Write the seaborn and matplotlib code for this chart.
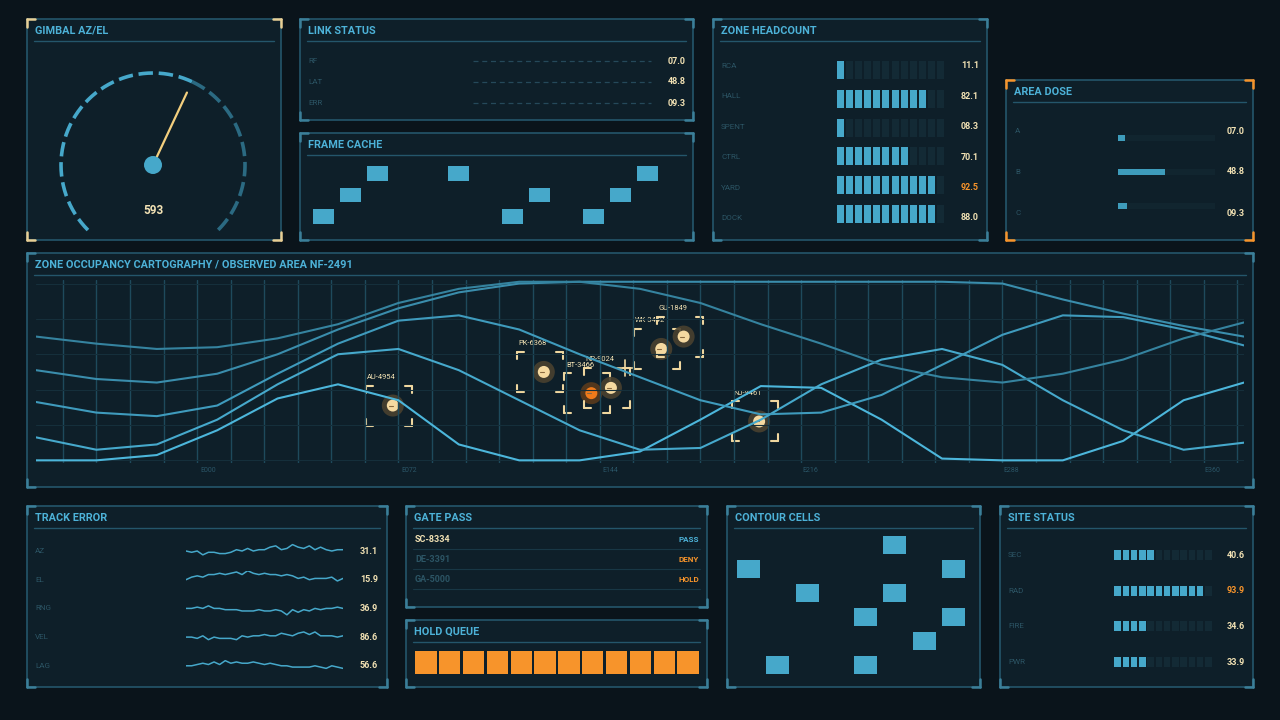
import numpy as np
import matplotlib
matplotlib.use("Agg")
import matplotlib.pyplot as plt
import seaborn as sns
import pandas as pd
from matplotlib.patches import Rectangle, Circle

sns.set_theme(style="dark")
plt.rcParams['font.family'] = ['Roboto', 'DejaVu Sans']
plt.rcParams['patch.edgecolor'] = 'none'
plt.rcParams['patch.linewidth'] = 0

# ---------------- data ----------------
gauge_value = 593
link_labels = ["RF", "LAT", "ERR"]
link_values = ["07.0", "48.8", "09.3"]
cache_cols = [0, 1, 2, 5, 7, 8, 10, 11, 12]
cache_rows = [0, 1, 2, 2, 0, 1, 0, 1, 2]
head_labels = ["RCA", "HALL", "SPENT", "CTRL", "YARD", "DOCK"]
head_values = [11.1, 82.1, 8.3, 70.1, 92.5, 88.0]
dose_labels = ["A", "B", "C"]
dose_values = [7.0, 48.8, 9.3]
map_x = [-61.6, -40.0, -18.4, 3.2, 24.8, 46.4, 68.0, 89.6, 111.2, 132.8, 154.4,
         176.0, 197.6, 219.2, 240.8, 262.4, 284.0, 305.6, 327.2, 348.8, 370.4]
line_a = [0, 0, 3, 17, 35, 43, 34, 9, 0, 0, 5, 23, 42, 41, 23, 1, 0, 0, 11, 34, 44]
line_b = [13, 6, 9, 23, 43, 60, 63, 51, 34, 17, 6, 7, 23, 43, 57, 63, 54, 34, 17, 6, 10]
line_c = [33, 27, 25, 31, 49, 66, 79, 82, 74, 60, 47, 34, 26, 27, 37, 54, 71, 82, 81, 74, 65]
line_d = [51, 46, 44, 49, 60, 74, 86, 95, 100, 101, 101, 101, 101, 101, 101, 101, 100, 91, 83, 76, 70]
line_e = [70, 66, 63, 64, 69, 77, 89, 97, 101, 101, 97, 89, 77, 66, 54, 47, 44, 49, 57, 69, 78]
track_ids = ["AU-4954", "PK-6368", "BT-3466", "NP-9024", "WK-3442", "GU-1849", "NJ-9461"]
track_x = [66, 120, 137, 144, 162, 170, 197]
track_y = [31, 50, 38, 41, 63, 70, 22]
track_alert = [False, False, True, False, False, False, False]
tick_labels = ["E000", "E072", "E144", "E216", "E288", "E360"]
tick_pos = [0, 72, 144, 216, 288, 360]
err_labels = ["AZ", "EL", "RNG", "VEL", "LAG"]
err_values = ["31.1", "15.9", "36.9", "86.6", "56.6"]
spark_az = [0, -1, 0, -3, -1, -1, -2, -2, -1, 1, 0, 2, 0, 1, 1, 3, 4, 1, 2, 5, 3, 2, 4, 1, 3, 1, 0, 1, 1]
spark_el = [0, 2, 3, 2, 4, 4, 5, 4, 5, 6, 4, 7, 5, 4, 5, 4, 4, 3, 4, 3, 1, 2, 0, 1, 1, 1, 2, -1, 1]
spark_rng = [0, 0, 1, 0, 2, 0, 0, -1, -1, -1, -2, -2, -2, -1, -2, -2, -1, -2, -5, -1, -3, -1, -2, 0, -1, 0, 0, 1, 0]
spark_vel = [0, 0, -1, 1, -2, 0, -1, -1, -1, -2, 1, 0, 1, 1, 2, 1, 1, 3, 2, 1, 3, 4, 2, 4, 1, 1, 1, 0, 1]
spark_lag = [0, 0, 1, 2, 1, 3, 1, 4, 2, 3, 2, 2, 3, 2, 1, 2, 1, 0, 0, -1, -1, -1, -1, 0, -1, -2, 0, -1, -2]
gate_ids = ["SC-8334", "DE-3391", "GA-5000"]
gate_status = ["PASS", "DENY", "HOLD"]
hold_count = 12
contour_cols = [5, 0, 7, 2, 5, 4, 7, 6, 1, 4]
contour_rows = [0, 1, 1, 2, 2, 3, 3, 4, 5, 5]
site_labels = ["SEC", "RAD", "FIRE", "PWR"]
site_values = [40.6, 93.9, 34.6, 33.9]

# ---------------- style ----------------
BG = "#0a141b"; PANEL = "#0e1f29"; BORDER = "#24566b"; TITLE = "#4db2d8"
ACC = "#46a8ca"; DIM = "#2c5565"; CREAM = "#f2e2b4"; ORANGE = "#f7942b"
SEGOFF = "#132a35"

fig = plt.figure(figsize=(12.8, 7.2), dpi=100, facecolor=BG)
ov = fig.add_axes([0, 0, 1, 1])
ov.set_xlim(0, 1280); ov.set_ylim(720, 0); ov.axis("off"); ov.set_facecolor(BG)


def panel(x0, y0, x1, y1, title, corner=None):
    ov.add_patch(Rectangle((x0, y0), x1 - x0, y1 - y0, facecolor=PANEL, edgecolor=BORDER, lw=1.2, zorder=1))
    ov.text(x0 + 8, y0 + 12, title, color=TITLE, fontsize=7.8, fontweight="bold", va="center", zorder=3)
    ov.plot([x0 + 7, x1 - 7], [y0 + 22, y0 + 22], color=BORDER, lw=1, zorder=2)
    c = corner or "#3b7f99"
    L = 8
    for (cx, cy, dx, dy) in [(x0, y0, 1, 1), (x1, y0, -1, 1), (x0, y1, 1, -1), (x1, y1, -1, -1)]:
        ov.plot([cx, cx + dx * L], [cy, cy], color=c, lw=1.8, zorder=3)
        ov.plot([cx, cx], [cy, cy + dy * L], color=c, lw=1.8, zorder=3)


def sub_axes(x0, y0, x1, y1):
    a = fig.add_axes([x0 / 1280, 1 - y1 / 720, (x1 - x0) / 1280, (y1 - y0) / 720])
    a.set_facecolor("none"); a.axis("off")
    return a

# ---- gimbal gauge ----
panel(27, 19, 281, 240, "GIMBAL AZ/EL", corner="#e8cf95")
cx, cy, r = 153, 165, 92
frac = gauge_value / 1000
ang_val = 225 - 270 * frac
th1 = np.radians(np.linspace(225, ang_val, 200))
th2 = np.radians(np.linspace(ang_val, -45, 120))
ov.plot(cx + r * np.cos(th1), cy - r * np.sin(th1), color=ACC, lw=2.6, ls=(0, (4, 1.6)), zorder=3)
ov.plot(cx + r * np.cos(th2), cy - r * np.sin(th2), color="#2b6a82", lw=2.6, ls=(0, (4, 1.6)), zorder=3)
a = np.radians(ang_val)
ov.plot([cx, cx + 80 * np.cos(a)], [cy, cy - 80 * np.sin(a)], color="#f3cf7e", lw=1.6, zorder=4)
ov.add_patch(Circle((cx, cy), 9, color=ACC, zorder=5))
ov.text(cx, 211, str(gauge_value), color=CREAM, fontsize=8.5, fontweight="bold", ha="center", va="center")

# ---- link status ----
panel(300, 19, 693, 120, "LINK STATUS")
for i, (lab, val) in enumerate(zip(link_labels, link_values)):
    y = 61 + i * 21
    ov.text(308, y, lab, color=DIM, fontsize=5.8, va="center")
    ov.plot([473, 651], [y, y], color="#25495a", lw=0.9, ls=(0, (4, 3)))
    ov.text(686, y, val, color=CREAM, fontsize=6.5, fontweight="bold", ha="right", va="center")

# ---- frame cache ----
panel(300, 133, 693, 240, "FRAME CACHE")
fa = sub_axes(307, 160, 685, 230)
fa.set_xlim(-0.6, 13.4); fa.set_ylim(-0.6, 2.6)
fa.bar(cache_cols, 0.68, bottom=np.array(cache_rows) - 0.34, width=0.78, color=ACC, lw=0)

# ---- zone headcount ----
panel(713, 19, 987, 240, "ZONE HEADCOUNT")
ha_ = sub_axes(835, 56, 946, 228)
ha_.set_xlim(-0.6, 11.6); ha_.set_ylim(5.5, -0.5)
for i, (lab, v) in enumerate(zip(head_labels, head_values)):
    y = 66 + i * 30.4
    n = int(round(v / 100 * 12))
    ha_.bar(np.arange(12), 0.62, bottom=i - 0.31, width=0.78, lw=0,
            color=[ACC if k < n else SEGOFF for k in range(12)])
    ov.text(721, y, lab, color=DIM, fontsize=5.8, va="center")
    ov.text(979, y, f"{v:04.1f}", color=ORANGE if v > 90 else CREAM, fontsize=6.5, fontweight="bold", ha="right", va="center")

# ---- area dose ----
panel(1006, 80, 1253, 240, "AREA DOSE", corner=ORANGE)
da = sub_axes(1118, 121, 1215, 223)
da.set_xlim(0, 100); da.set_ylim(2.5, -0.5)
da.barh(range(3), [100] * 3, height=0.2, color="#11252f", lw=0)
da.barh(range(3), dose_values, height=0.2, color="#3e9cbb", lw=0)
for i, (lab, v) in enumerate(zip(dose_labels, dose_values)):
    y = 131 + i * 41
    ov.text(1015, y, lab, color=DIM, fontsize=5.8, va="center")
    ov.text(1245, y, f"{v:04.1f}", color=CREAM, fontsize=6.5, fontweight="bold", ha="right", va="center")

# ---- map ----
panel(27, 253, 1253, 487, "ZONE OCCUPANCY CARTOGRAPHY / OBSERVED AREA NF-2491")
ma = sub_axes(36, 280, 1244, 463)
ma.set_xlim(map_x[0], map_x[-1]); ma.set_ylim(-1.5, 102)
for gx in np.arange(-52, 372, 12):
    ma.axvline(gx, color="#1e4a5c", lw=1, zorder=0)
for gy in range(0, 101, 20):
    ma.axhline(gy, color="#152f3b", lw=0.8, zorder=0)
df = pd.DataFrame({"x": map_x * 5,
                   "v": line_a + line_b + line_c + line_d + line_e,
                   "s": sum([[k] * len(map_x) for k in "ABCDE"], [])})
pal = {"A": "#4cb6db", "B": "#46a9cc", "C": "#3f9bbd", "D": "#3a8dac", "E": "#35839f"}
sns.lineplot(data=df, x="x", y="v", hue="s", palette=pal, lw=1.5, legend=False, ax=ma, zorder=2)
ma.set_xlim(map_x[0], map_x[-1]); ma.axis("off")
for lab, p in zip(tick_labels, tick_pos):
    px = 208 + p * 2.79
    ov.text(px, 471, lab, color="#2a5567", fontsize=5, ha="center", va="center")

to_px = lambda x, y: ov.transData.inverted().transform(ma.transData.transform((x, y)))
for tid, tx, ty, al in zip(track_ids, track_x, track_y, track_alert):
    px, py = to_px(tx, ty)
    ov.add_patch(Circle((px, py), 11, color="#5a3a1c" if al else "#4a412f", alpha=0.9, zorder=6))
    ov.add_patch(Circle((px, py), 6, color="#f07a1a" if al else "#f5d9a0", zorder=7))
    ov.plot([px - 4, px], [py, py], color="#8a6a40", lw=0.8, zorder=8)
    bx0, bx1, by0, by1 = px - 27, px + 19, py - 20, py + 20
    L = 7
    for (qx, qy, dx, dy) in [(bx0, by0, 1, 1), (bx1, by0, -1, 1), (bx0, by1, 1, -1), (bx1, by1, -1, -1)]:
        ov.plot([qx, qx + dx * L], [qy, qy], color="#efd79f", lw=1.5, zorder=6)
        ov.plot([qx, qx], [qy, qy + dy * L], color="#efd79f", lw=1.5, zorder=6)
    ov.text(px - 11, py - 28, tid, color=CREAM, fontsize=5.4, ha="center", va="center", zorder=8)
ov.plot([617, 633], [368, 368], color="#efd79f", lw=1.2, zorder=8)
ov.plot([625, 625], [360, 376], color="#efd79f", lw=1.2, zorder=8)

# ---- track error ----
panel(27, 506, 387, 687, "TRACK ERROR")
sparks = [spark_az, spark_el, spark_rng, spark_vel, spark_lag]
for i, (lab, val, s) in enumerate(zip(err_labels, err_values, sparks)):
    y = 551 + i * 28.7
    sa = sub_axes(186, y - 9, 343, y + 9)
    sns.lineplot(x=np.arange(len(s)), y=np.array(s), ax=sa, color=ACC, lw=1.1)
    sa.set_ylim(-7, 7); sa.set_xlim(0, len(s) - 1)
    sa.axis("off")
    ov.text(35, y, lab, color=DIM, fontsize=5.8, va="center")
    ov.text(378, y, val, color=CREAM, fontsize=6.5, fontweight="bold", ha="right", va="center")

# ---- gate pass ----
panel(406, 506, 707, 607, "GATE PASS")
for i, (gid, st) in enumerate(zip(gate_ids, gate_status)):
    y = 540 + i * 20
    ov.text(415, y, gid, color=CREAM if i == 0 else DIM, fontsize=6.5, fontweight="bold", va="center")
    ov.text(699, y, st, color=TITLE if st == "PASS" else ORANGE, fontsize=5.8, fontweight="bold", ha="right", va="center")
    ov.plot([413, 700], [y + 9, y + 9], color="#183745", lw=0.8)

# ---- hold queue ----
panel(406, 620, 707, 687, "HOLD QUEUE")
qa = sub_axes(414, 651, 700, 674)
qa.set_xlim(-0.5, hold_count - 0.5); qa.set_ylim(0, 1)
qa.bar(np.arange(hold_count), 1, width=0.9, color=ORANGE, lw=0)

# ---- contour cells ----
panel(727, 506, 980, 687, "CONTOUR CELLS")
ca = sub_axes(734, 533, 968, 677)
ca.set_xlim(-0.5, 7.5); ca.set_ylim(5.5, -0.5)
ca.bar(contour_cols, 0.72, bottom=np.array(contour_rows) - 0.36, width=0.78, color=ACC, lw=0)

# ---- site status ----
panel(1000, 506, 1253, 687, "SITE STATUS")
sa2 = sub_axes(1113, 537, 1213, 680)
sa2.set_xlim(-0.55, 11.55); sa2.set_ylim(3.5, -0.5)
for i, (lab, v) in enumerate(zip(site_labels, site_values)):
    y = 555 + i * 35.7
    n = int(round(v / 100 * 12))
    sa2.bar(np.arange(12), 0.28, bottom=i - 0.14, width=0.8, lw=0,
            color=[ACC if k < n else SEGOFF for k in range(12)])
    ov.text(1008, y, lab, color=DIM, fontsize=5.8, va="center")
    ov.text(1245, y, f"{v:04.1f}", color=ORANGE if v > 90 else CREAM, fontsize=6.5, fontweight="bold", ha="right", va="center")

fig.savefig("out.png", dpi=100, facecolor=BG)
